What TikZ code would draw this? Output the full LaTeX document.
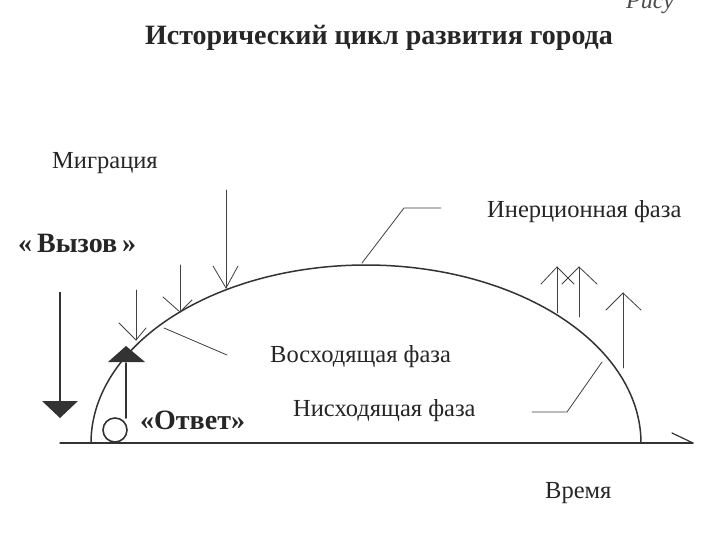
\documentclass[tikz,border=0pt]{standalone}
\usepackage{fontspec}
\setmainfont{Liberation Serif}
\begin{document}
\begin{tikzpicture}[x=1pt,y=-1pt,
  ink/.style={draw=black!80, line width=1.2pt, line cap=round},
  thin/.style={draw=black!75, line width=0.8pt, line cap=round},
  thick/.style={draw=black!80, line width=2.6pt},
  lbl/.style={inner sep=0pt, anchor=west, font=\fontsize{24.5}{24.5}\selectfont, text=black!85},
  blbl/.style={inner sep=0pt, anchor=west, font=\fontsize{28}{28}\selectfont\bfseries, text=black!85}]
\useasboundingbox[fill=white] (0,0) rectangle (720,540);

% texts
\node[inner sep=0pt, font=\fontsize{28}{28}\selectfont\bfseries, text=black!85] (title) at (379,38) {Исторический цикл развития города};
\node[inner sep=0pt, anchor=west, font=\fontsize{24}{24}\selectfont\itshape, text=black!70] (fig) at (626,3) {Рису};
\node[lbl] (migr) at (52,163) {Миграция};
\node[blbl] (vyzov) at (18,243) {«\kern5pt Вызов\kern5pt»};
\node[lbl] (inert) at (487,212) {Инерционная фаза};
\node[lbl] (voskh) at (270,357) {Восходящая фаза};
\node[lbl] (niskh) at (293,411) {Нисходящая фаза};
\node[blbl] (otvet) at (140,420) {«Ответ»};
\node[lbl] (time) at (545,493) {Время};

% axis
\coordinate (ax0) at (60,443);
\coordinate (ax1) at (693,443);
\draw[ink] (ax0) -- (ax1);
\draw[ink] (672,433) -- (ax1);

% cycle curve
\draw[ink, line width=1.5pt] plot[domain=180:0, samples=120, smooth] ({366+275*cos(\x)}, {443-178*sin(\x)});

% leaders
\draw[thin] (362,263) -- (404,208) -- (441,208);
\draw[thin] (164,328) -- (227,355);
\draw[thin] (602,362) -- (567,412) -- (532,412);

% migration arrows (down)
\draw[thin] (226,190) -- (226,288);
\draw[thin] (213,266) -- (226,288) -- (238,266);
\draw[thin] (180,265) -- (180,312);
\draw[thin] (163,297) -- (180,312) -- (192,300);
\draw[thin] (136,290) -- (136,340);
\draw[thin] (119,323) -- (136,340) -- (146,328);

% outflow arrows (up)
\draw[thin] (557,313) -- (557,267);
\draw[thin] (541,284) -- (557,267) -- (574,284);
\draw[thin] (579,317) -- (579,267);
\draw[thin] (562,284) -- (579,267) -- (597,284);
\draw[thin] (623,368) -- (623,293);
\draw[thin] (606,310) -- (623,293) -- (641,310);

% challenge arrow
\draw[thick] (60,292) -- (60,402);
\fill[black!80] (42,401) -- (78,401) -- (60,418) -- cycle;

% response arrow
\node[draw=black!80, line width=1.6pt, circle, minimum size=24pt, inner sep=0pt] (ball) at (115,430) {};
\draw[ink, line width=1.8pt] (126,418) -- (126,363);
\fill[black!80] (108,362) -- (145,362) -- (126,346) -- cycle;
\end{tikzpicture}
\end{document}
